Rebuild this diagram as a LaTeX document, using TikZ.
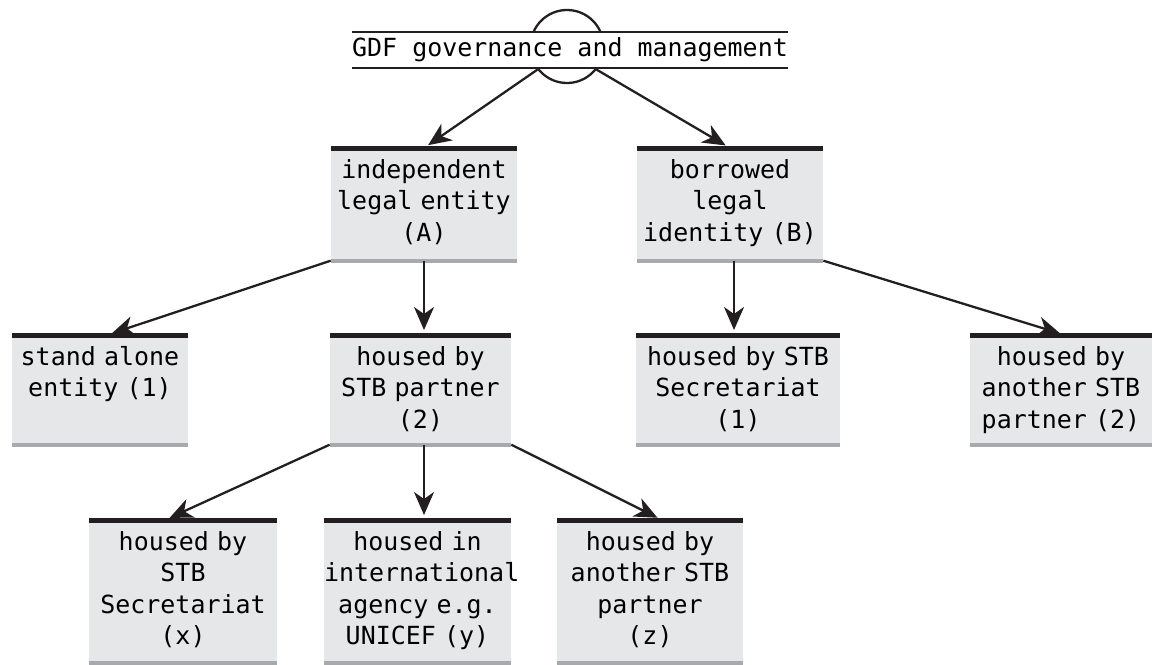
\documentclass[tikz,border=0pt]{standalone}
\usepackage{fontspec}
\setmonofont{DejaVu Sans Mono}
\usepackage{xcolor}
\usepackage{tikz}
\usetikzlibrary{positioning,arrows.meta}
\definecolor{boxgray}{HTML}{E6E7E8}
\definecolor{bargray}{HTML}{A7A9AC}
\definecolor{barblack}{HTML}{231F20}
\tikzstyle{arrow} = [line width=1.3pt, barblack, -{Stealth[length=0.46cm,width=0.4cm,inset=0.14cm]}, shorten >=0.1cm]
\tikzstyle{branch} = [rectangle, fill=boxgray, anchor=north, inner xsep=0pt, inner ysep=0.16cm, text height=0.44cm, align=center, font=\ttfamily\fontsize{14.2pt}{17.9pt}\selectfont]
\tikzstyle{topbar} = [barblack, line width=0.1cm]
\tikzstyle{bottombar} = [bargray, line width=0.08cm]

\begin{document}
\begin{tikzpicture}
		\useasboundingbox (0,0) rectangle (23.04,-13.28);
		\coordinate (gdf) at (11.4,-1.0);
		\coordinate (hub) at (11.34,-0.93);
		\coordinate (indep) at (8.48,-2.96);
		\coordinate (borrowed) at (14.6,-2.96);
		\coordinate (standalone) at (2.0,-6.70);
		\coordinate (stbpartner) at (8.41,-6.70);
		\coordinate (stbsecr) at (14.76,-6.70);
		\coordinate (another) at (21.22,-6.70);
		\coordinate (secrx) at (3.66,-10.40);
		\coordinate (agencyy) at (8.35,-10.40);
		\coordinate (partnerz) at (13.0,-10.40);
		% Governance heading
		\node[name=hub, draw=barblack, line width=1.3pt, circle, minimum size=1.46cm, inner sep=0pt] at (hub) {};
		\node[name=gdf, fill=white, minimum height=0.72cm, inner sep=0pt, font=\ttfamily\fontsize{14.2pt}{17.9pt}\selectfont] at (gdf) {GDF governance and management};
		\draw[barblack, line width=1.3pt] (gdf.north west) -- (gdf.north east);
		\draw[barblack, line width=1.3pt] (gdf.south west) -- (gdf.south east);
		% Legal form
		\begin{scope}[every node/.style={branch, text depth=1.48cm}]
		\node[name=indep, text width=3.72cm] at (indep) {independent\\legal entity\\(A)};
		\node[name=borrowed, text width=3.72cm] at (borrowed) {borrowed\\legal\\identity (B)};
		\end{scope}
		% Hosting
		\begin{scope}[every node/.style={branch, text depth=1.42cm}]
		\node[name=standalone, text width=3.52cm] at (standalone) {stand alone\\entity (1)};
		\node[name=stbpartner, text width=3.62cm] at (stbpartner) {housed by\\STB partner\\(2)};
		\node[name=stbsecr, text width=4.08cm] at (stbsecr) {housed by STB\\Secretariat\\(1)};
		\node[name=another, text width=3.64cm] at (another) {housed by\\another STB\\partner (2)};
		\end{scope}
		% Host options
		\begin{scope}[every node/.style={branch, text depth=2.08cm}]
		\node[name=secrx, text width=3.76cm] at (secrx) {housed by\\STB\\Secretariat\\(x)};
		\node[name=agencyy, text width=3.74cm] at (agencyy) {housed in\\international\\agency e.g.\\UNICEF (y)};
		\node[name=partnerz, text width=3.72cm] at (partnerz) {housed by\\another STB\\partner\\(z)};
		\end{scope}
		% bars on the boxes
		\foreach \n in {indep,borrowed,standalone,stbpartner,stbsecr,another,secrx,agencyy,partnerz}{
			\draw[topbar] (\n.north west) -- (\n.north east);
			\draw[bottombar] (\n.south west) -- (\n.south east);
		}
		\draw [arrow] (hub.218)--(indep.north);
		\draw [arrow] (hub.322)--(borrowed.north);
		\draw [arrow] (indep.south west)--([xshift=0.14cm]standalone.north);
		\draw [arrow] (indep.south)--(indep.south |- stbpartner.north);
		\draw [arrow] ([xshift=0.08cm]borrowed.south)--([xshift=0.08cm]borrowed.south |- stbsecr.north);
		\draw [arrow] (borrowed.south east)--([xshift=0.08cm]another.north);
		\draw [arrow] (stbpartner.south west)--([xshift=-0.36cm]secrx.north);
		\draw [arrow] ([xshift=0.07cm]stbpartner.south)--([xshift=0.07cm]stbpartner.south |- agencyy.north);
		\draw [arrow] (stbpartner.south east)--([xshift=0.24cm]partnerz.north);
		\end{tikzpicture}
\end{document}
